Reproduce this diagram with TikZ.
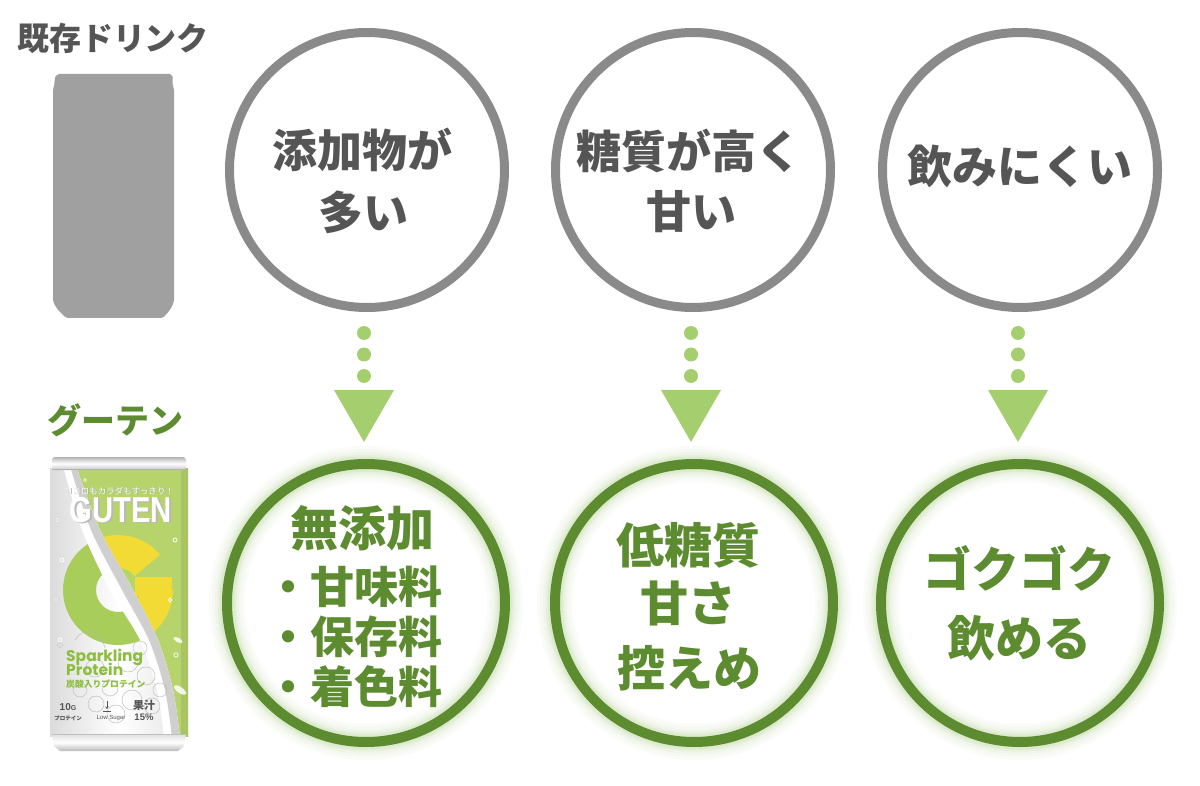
\documentclass[tikz,border=0pt]{standalone}
\usepackage{fontspec}
\setmainfont{Noto Sans CJK JP}
\newfontfamily\pop{Poppins}
\newfontfamily\lib{Liberation Sans}
\usetikzlibrary{shapes.geometric,arrows.meta}
\definecolor{graytxt}{HTML}{555555}
\definecolor{graycirc}{HTML}{8A8A8A}
\definecolor{cangray}{HTML}{A0A0A0}
\definecolor{gdark}{HTML}{5C8B30}
\definecolor{glight}{HTML}{A5CF6E}
\definecolor{glow}{HTML}{8FBF5A}
\definecolor{canlime}{HTML}{B6D46B}
\definecolor{gyellow}{HTML}{F2DB35}
\definecolor{ggreen}{HTML}{A9CD5A}
\definecolor{plabel}{HTML}{8CBD3F}
\begin{document}
\begin{tikzpicture}[x=1pt,y=-1pt,
  badc/.style={circle,draw=graycirc,line width=9pt,minimum size=275pt,inner sep=0pt},
  goodc/.style={circle,draw=gdark,line width=10pt,minimum size=278pt,inner sep=0pt},
  badt/.style={font=\bfseries\fontsize{45}{50}\selectfont,text=graytxt,inner sep=0pt},
  goodt/.style={font=\bfseries\fontsize{48}{52}\selectfont,text=gdark,inner sep=0pt},
  listt/.style={font=\bfseries\fontsize{44}{48}\selectfont,text=gdark,inner sep=0pt},
  dotc/.style={circle,fill=glight,minimum size=14pt,inner sep=0pt},
  headt/.style={font=\bfseries\fontsize{32}{34}\selectfont,inner sep=0pt},
]
\useasboundingbox (0,0) rectangle (1200,786);
\fill[white] (0,0) rectangle (1200,786);

% ---------- left labels ----------
\node[headt,text=graytxt] (lbl1) at (113,38) {既存ドリンク};
\node[headt,text=gdark,font=\bfseries\fontsize{34}{36}\selectfont] (lbl2) at (115,420) {グーテン};

% ---------- gray can silhouette ----------
\fill[cangray, rounded corners=2pt] (57,74) -- (172,74) -- (173,80) -- (172,84) -- (174,88)
  -- (174,302) -- (170,310) -- (163,318) -- (66,318) -- (58,310) -- (53,302)
  -- (53,88) -- (55,84) -- (54,80) -- cycle;

% ---------- GUTEN can ----------
\begin{scope}
  \clip (50,468) rectangle (188,736);
  \shade[left color=gray!28, right color=gray!22, middle color=white] (50,468) rectangle (188,736);
  % lime area
  \fill[canlime] plot[smooth] coordinates {(76,466) (100,530) (133,590) (158,640) (173,690) (180,738)}
     -- (190,738) -- (190,466) -- cycle;
  \fill[black,opacity=0.07] (181,466) rectangle (190,738);
  % G, green part (left of swoosh)
  \begin{scope}
    \clip plot[smooth] coordinates {(70,466) (91,530) (122,590) (149,640) (165,690) (172,738)} -- (40,738) -- (40,466) -- cycle;
    \fill[ggreen] (118,590) ++(-40:55) arc[start angle=-40,end angle=-360,radius=55] -- (140,590)
       arc[start angle=-360,end angle=-40,radius=22] -- cycle;
    \fill[ggreen] (135,577) rectangle (172,596);
  \end{scope}
  % G, yellow part (right of swoosh)
  \begin{scope}
    \clip plot[smooth] coordinates {(70,466) (91,530) (122,590) (149,640) (165,690) (172,738)} -- (195,738) -- (195,466) -- cycle;
    \fill[gyellow] (118,590) ++(-40:55) arc[start angle=-40,end angle=-360,radius=55] -- (140,590)
       arc[start angle=-360,end angle=-40,radius=22] -- cycle;
    \fill[gyellow] (135,577) rectangle (172,596);
  \end{scope}
  % swoosh
  \fill[white] plot[smooth] coordinates {(63,466) (82,530) (110,590) (140,640) (157,690) (164,738)}
     -- plot[smooth] coordinates {(180,738) (173,690) (158,640) (133,590) (100,530) (76,466)} -- cycle;
  \fill[gray!38] plot[smooth] coordinates {(70,466) (91,530) (122,590) (149,640) (165,690) (172,738)}
     -- plot[smooth] coordinates {(180,738) (173,690) (158,640) (133,590) (100,530) (76,466)} -- cycle;
  % bubbles
  \foreach \bx/\by/\br in {58/520/2.5,62/560/2,56/600/2.5,60/640/2,175/540/2,170/600/1.8,176/655/2.2,150/520/1.5,85/480/1.5}
    \draw[white,line width=0.7pt] (\bx,\by) circle[radius=\br];
  \foreach \bx/\by/\br in {58/520/3,56/600/3,60/645/2.5}
    \draw[gray!45,line width=0.4pt] (\bx,\by) circle[radius=\br];
  % grapes (line drawing)
  \foreach \gx/\gy/\gr in {95/668/9,110/688/8,128/662/10,146/676/9,132/700/10,152/706/8,116/714/9,96/704/8,140/648/7,160/690/7,80/690/7}
    \draw[gray!55,line width=0.45pt] (\gx,\gy) circle[radius=\gr];
  \draw[gray!55,line width=0.45pt] (75,640) .. controls (85,625) and (100,630) .. (105,648);
  % leaves
  \fill[white,opacity=0.85,rotate around={-35:(180,690)}] (180,690) ellipse[x radius=7,y radius=3];
  \fill[white,opacity=0.85,rotate around={-30:(178,640)}] (178,640) ellipse[x radius=5,y radius=2.2];
\end{scope}
% rims
\shade[top color=gray!60, bottom color=gray!45, middle color=white, rounded corners=3pt] (52,457) rectangle (186,470);
\draw[gray!60,line width=0.6pt] (52,469.5) -- (186,469.5);
\shade[top color=gray!25, bottom color=gray!55, middle color=white] (52,734) -- (186,734) -- (184,746) -- (178,751) -- (60,751) -- (54,746) -- cycle;
\draw[gray!50,line width=0.6pt] (52,734.5) -- (186,734.5);
% can texts
\node[font=\fontsize{8.5}{9}\selectfont,text=gray!70,inner sep=0pt] at (119.6,491.6) {ココロもカラダもすっきり！};
\node[font=\fontsize{8.5}{9}\selectfont,text=white,inner sep=0pt] (tag) at (119,491) {ココロもカラダもすっきり！};
\node[font=\lib\bfseries\fontsize{36}{36}\selectfont,text=gray!55,xscale=0.81,inner sep=0pt] at (122.5,511.5) {GUTEN};
\node[font=\lib\bfseries\fontsize{36}{36}\selectfont,text=white,xscale=0.81,inner sep=0pt] (logo) at (121,510) {GUTEN};
\node[font=\pop\bfseries\fontsize{15.5}{16}\selectfont,text=plabel,anchor=base west,inner sep=0pt] (sp) at (66,661) {Sparkling};
\node[font=\pop\bfseries\fontsize{15.5}{16}\selectfont,text=plabel,anchor=base west,inner sep=0pt] (pr) at (66,675) {Protein};
\node[font=\bfseries\fontsize{8.8}{9}\selectfont,text=plabel,anchor=base west,inner sep=0pt] (tan) at (66,687) {炭酸入りプロテイン};
\node[font=\lib\bfseries\fontsize{10}{10}\selectfont,text=graytxt,inner sep=0pt] (ten) at (68,707) {10{\fontsize{7}{7}\selectfont G}};
\node[font=\bfseries\fontsize{5.5}{6}\selectfont,text=graytxt,inner sep=0pt] (pt) at (68,718) {プロテイン};
\node[font=\lib\fontsize{6}{6}\selectfont,text=graytxt,inner sep=0pt] (ls) at (111,718) {Low Sugar};
\coordinate (arwtop) at (107,701);
\coordinate (arwbot) at (107,709);
\draw[graytxt,line width=0.8pt,-{Stealth[length=2.5pt,width=3.5pt]}] (arwtop) -- (arwbot);
\draw[graytxt,line width=0.8pt] (103,711) -- (111,711);
\node[font=\bfseries\fontsize{11}{11}\selectfont,text=graytxt,inner sep=0pt] (ka) at (144,705) {果汁};
\node[font=\lib\bfseries\fontsize{9.5}{10}\selectfont,text=graytxt,inner sep=0pt] (pc) at (144,717) {15\%};

% ---------- gray circles ----------
\node[badc] (b1) at (367,170) {};
\node[badc] (b2) at (693,170) {};
\node[badc] (b3) at (1020,170) {};
\node[badt] (b1a) at (362,150) {添加物が};
\node[badt] (b1b) at (363,212) {多い};
\node[badt] (b2a) at (689,151) {糖質が高く};
\node[badt] (b2b) at (691,212) {甘い};
\node[badt] (b3a) at (1020,166) {飲みにくい};

% ---------- glows + green circles ----------
\foreach \cx in {366,694,1020} {
  \foreach \w/\o in {36/0.035,30/0.045,24/0.06,19/0.08,15/0.12} {
    \draw[glow,line width=\w pt,opacity=\o] (\cx,603) circle[radius=139];
  }
}
\node[goodc] (g1) at (366,603) {};
\node[goodc] (g2) at (694,603) {};
\node[goodc] (g3) at (1020,603) {};
\node[goodt] (g1a) at (362,528) {無添加};
\node[listt] (g1b) at (354,587) {・甘味料};
\node[listt] (g1c) at (354,637) {・保存料};
\node[listt] (g1d) at (354,687) {・着色料};
\node[goodt] (g2a) at (688,545) {低糖質};
\node[goodt] (g2b) at (688,603) {甘さ};
\node[goodt] (g2c) at (689,668) {控えめ};
\node[goodt] (g3a) at (1019,568) {ゴクゴク};
\node[goodt] (g3b) at (1019,638) {飲める};

% ---------- dotted arrows ----------
\foreach \i/\ax in {1/364,2/691,3/1018} {
  \node[dotc] (d\i a) at (\ax,333) {};
  \node[dotc] (d\i b) at (\ax,354.5) {};
  \node[dotc] (d\i c) at (\ax,376) {};
  \fill[glight] (\ax-30,390) -- (\ax+30,390) -- (\ax,442) -- cycle;
}
\end{tikzpicture}
\end{document}
